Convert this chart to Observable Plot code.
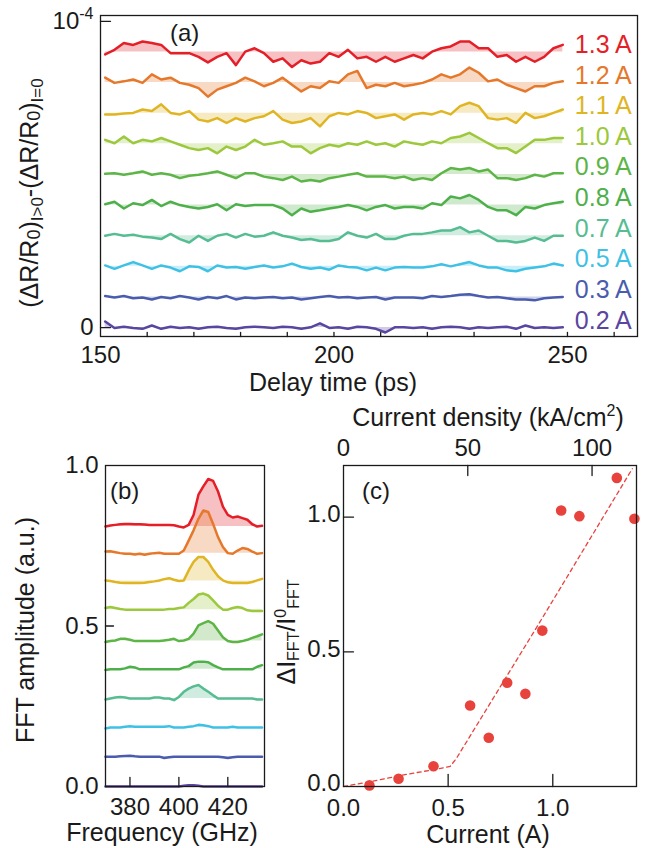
<!DOCTYPE html>
<html><head><meta charset="utf-8">
<script src="https://cdn.jsdelivr.net/npm/d3@7"></script>
<script src="https://cdn.jsdelivr.net/npm/@observablehq/plot@0.6"></script>
<style>
html,body{margin:0;padding:0;background:#fff;}
#fig{position:relative;width:651px;height:848px;font-family:"Liberation Sans",Arial,Helvetica,sans-serif;}
#fig > div{position:absolute;}
svg{overflow:visible;}
</style></head><body>
<div id="fig"><div id="pa" style="left:0;top:0"></div><div id="pb" style="left:0;top:400px"></div><div id="pc" style="left:275px;top:395px"></div></div>
<script>
const FONT = '"Liberation Sans", Arial, Helvetica, sans-serif';
const INK = "#1a1a1a";
const TICK_FS = 24, TITLE_FS = 25, LETTER_FS = 24;

// ---------- shared categories ----------
const currents = ["1.3 A","1.2 A","1.1 A","1.0 A","0.9 A","0.8 A","0.7 A","0.5 A","0.3 A","0.2 A"];
const colors = ["#e41f28","#e5782b","#e0b523","#9bc83c","#5cb546","#4eb04a","#56bc91","#3fc1e6","#4a5cae","#5a45a0"];

// ---------- panel (a): time traces, offsets in 1e-4, deviations in 1e-6 ----------
const delayTimes = d3.range(151, 251, 2);
const delayTicks = [150, 200, 250];
const delayMinorTicks = [160,170,180,190,200,210,220,230,240,250,260];
const offsetsA = [0.9,0.8,0.7,0.6,0.5,0.4,0.3,0.2,0.1,0];
const trace13 = [-0.8,0.7,2.9,2.3,3.4,2.9,2.3,-0.4,-0.4,-0.4,-1.6,-3.4,-1.6,-0.4,-4.3,0.1,1.2,-0.4,-3.2,-2.1,-4.9,-2.7,-3.8,-3.2,-0.4,-1.6,0.7,-2.1,-1.6,-3.2,-1.6,-3.2,-2.1,-1,-2.1,0.1,1.2,1.8,3.4,3.4,1.2,1.2,-1.6,-1,-3.2,-1.6,-3.2,-1.6,1.2,2.3];
const trace12 = [1.6,-0.1,0.4,1,-0.1,2.7,1,1.6,-0.1,-0.7,-1.8,-4.6,-2.3,-1.2,-0.1,1.6,0.4,-1.2,-0.1,1.6,-0.7,-2.9,-1.2,-1.8,0.4,-0.1,2.7,3.8,-1.8,-0.7,-1.2,-0.1,-1.2,-0.7,-0.1,1,2.7,1.6,2.7,4.9,3.2,0.4,1,-0.7,-1.8,-2.9,-1.2,-1.2,-0.1,0.4];
const trace11 = [-0.4,-0.4,-0.1,0.1,1.2,0.7,2.9,0.1,-0.4,0.7,-2.1,-2.7,-1.6,-3.2,-1.6,-2.7,-1.6,-1,0.7,-2.1,-3.2,-2.7,-1.6,-4.3,-1,0.1,-0.4,0.7,0.1,-1.6,-1,-0.4,-2.1,-0.4,0.1,-0.4,0.7,-0.4,2.3,3.4,2.3,-1.6,-2.1,-1.6,-3.2,0.1,-1.6,-1,0.1,1.2];
const trace10 = [1.3,0.2,2.4,0.2,1.3,0.8,1.9,0.8,-0.3,-1.4,-2,-1.4,-3.1,-0.9,-2,-0.9,1.3,-0.3,0.2,0.8,-0.9,-0.9,-3.1,-1.4,-0.3,-0.9,0.2,-0.3,0.8,-0.3,0.2,-0.9,0.8,0.2,-0.3,0.8,0.2,1.9,2.4,3.6,1.9,0.2,-1.4,-1.4,-3,-0.9,1.3,1.3,1.9,1.9];
const trace09 = [0.2,0.4,-0.1,0.4,1,-0.1,0.4,-0.1,-1.2,-0.4,-0.1,0.4,1,-0.1,-1.2,0.4,0.4,-0.7,-1.2,-1.8,-0.7,-2.3,-1.8,-2.3,-1.2,-0.7,-0.1,0.4,-0.7,-0.7,-0.7,-1.2,-0.7,-1.8,-1.2,-1.8,0.4,2.1,1.6,2.1,1,1.6,-1.2,-1.2,-1.8,-1.2,-0.1,-0.7,0.4,0.4];
const trace08 = [0.3,1.1,-1.1,0.6,0,1.7,-0.3,1.1,0,-0.6,-1.1,-0.6,0.3,-1.7,0.3,-0.3,0,0,0,-1.1,-3.3,-1.1,-2.2,-1.7,-1.1,-0.6,0,-0.6,-1.7,-0.6,0,-1.1,-0.6,-0.6,-1.1,0.6,0,2.8,2.2,3.3,1.7,-0.6,-1.7,-1.7,-3.3,-0.6,-1.1,0,0.6,1.1];
const trace07 = [0,0.6,0,0.3,-0.3,-0.6,-1.1,0.6,-1.1,-2.2,0,-1.7,0,0.6,-0.6,0.6,-0.3,0,1.1,0,-0.6,-1.4,-1.1,-1.7,-1.7,-1.1,1.1,0,-0.6,0.6,-1.1,-1.1,0,0.6,0.6,1.1,1.7,1.7,2.8,1.1,1.7,0,-1.7,-1.7,-2.2,-1.7,-0.6,-1.7,0,0];
const trace05 = [0.3,-0.8,0.3,1.4,0.3,-0.8,0.3,-0.4,-1.6,0,-0.2,-1.6,0.3,-0.4,-0.2,-0.8,-0.2,0.3,-0.4,0,0.9,-0.2,-0.8,-0.4,-1.1,0.3,-0.2,-0.4,-1.3,-0.4,-1.3,-0.4,-0.2,-0.4,-0.4,0,0.7,0,0.7,1.4,0.3,-0.4,-0.4,-1.3,-1.6,-0.8,-0.4,0,0.9,0.3];
const trace03 = [0.3,-0.2,0.3,-0.4,-0.2,-0.8,0,-0.4,0.3,-0.2,-0.8,0,-0.4,0.3,-0.8,-0.2,-0.4,-0.2,0,-0.4,-0.2,-0.8,-0.4,0,0.3,-0.2,0,-0.4,-0.2,0,-0.8,-0.2,-0.2,-0.2,-0.4,0.3,0,0.3,0.7,0.9,0.3,-0.2,0,-0.4,-0.8,-0.8,-1.1,-0.4,-0.2,0];
const trace02 = [2.0,-0.1,0.3,-0.1,-0.4,0.7,-0.4,0.3,-0.1,0.1,-0.4,0.1,0.3,-0.1,-0.4,0.1,0.3,0.1,-0.1,0.3,0.1,-0.4,0.1,1.4,-0.1,0.1,-0.4,0.3,0.1,-0.4,-1.6,0.1,0.1,-0.1,0.1,-0.4,0.1,0.3,0.1,-0.4,0.1,-0.1,0.1,0.3,-0.4,0.7,-0.1,0.1,-0.1,0.1];
const tracesA = [trace13,trace12,trace11,trace10,trace09,trace08,trace07,trace05,trace03,trace02];

// ---------- panel (b): FFT spectra ----------
const freqs = d3.range(370, 436, 2);
const freqTicks = [380, 400, 420];
const fftTicks = [0, 0.5, 1.0];
const offsetsB = [0.81,0.727,0.64,0.551,0.453,0.365,0.274,0.184,0.093,0];
const spec13 = [0,0.003,0.005,0.007,0.008,0.008,0.007,0.007,0.006,0.005,0.005,0.005,0.005,0.005,0.004,0,-0.003,0.005,0.036,0.099,0.125,0.148,0.142,0.109,0.062,0.036,0.028,0.031,0.026,0.021,0.007,0,0.002];
const spec12 = [0.005,0.006,0.003,0,-0.002,-0.002,-0.004,-0.002,-0.005,-0.002,0,0.001,-0.002,-0.002,-0.002,-0.002,0.008,0.039,0.071,0.107,0.133,0.128,0.091,0.05,0.019,0,-0.002,0.008,0.016,0.013,0.005,-0.002,0];
const spec11 = [0.002,0,-0.003,-0.005,-0.006,-0.006,-0.006,-0.006,-0.005,-0.003,-0.001,0.002,0.006,0.009,0.004,0,0.002,0.033,0.06,0.075,0.075,0.06,0.035,0.015,0.002,-0.004,-0.006,-0.006,-0.006,-0.006,-0.003,0.002,0.007];
const spec10 = [0.005,0.008,0.005,0.002,0,0,0,0,0,0,0,0,0,0.002,0.002,0.005,0.007,0.021,0.033,0.047,0.05,0.044,0.029,0.012,0,0,0.005,0.008,0.005,-0.002,-0.004,-0.004,-0.004];
const spec09 = [-0.003,0,0.002,0.007,0.007,0.004,0,0,0,0,0,0,0.002,0.004,0.007,0,0.002,0.007,0.023,0.049,0.056,0.062,0.054,0.033,0.012,0,-0.003,-0.003,0,0.004,0.01,0.015,0.021];
const spec08 = [-0.002,0,0,0,0.003,0.008,0.006,0,0,0,0,0,0,0,0,0,0.006,0.01,0.021,0.024,0.024,0.022,0.013,0.006,0,0,0,0,0,0,0,0.008,0.013];
const spec07 = [-0.003,0,0.003,0.005,0.003,0,0,0,0,0,0.003,0.003,0,0,-0.005,0.005,0.021,0.031,0.038,0.042,0.031,0.021,0.01,0,0,0,0,0,0,0,0,-0.003,-0.003];
const spec05 = [-0.003,0,0,0,0.002,0.004,0.002,0.002,0.002,0.002,0.002,0.002,0.002,0.004,0,0,0,0.002,0.004,0.008,0.007,0.004,0,0,0,0,0.002,0,0,0,0,0,0];
const spec03 = [0,0,0,0.001,0.002,0.003,0.001,0,0,0,0,0,-0.004,-0.002,0,0,0,0,0,0,0,0,0,0,-0.002,-0.004,-0.002,0,0,0,0,0,0];
const spec02 = [0,0,0,0,0,0,0,0,0,0,0,0,0,0,0,0,0.002,0.004,0.004,0.002,0,0,0,0,0,0,0,0,0,0,0,0,0];
const spectraB = [spec13,spec12,spec11,spec10,spec09,spec08,spec07,spec05,spec03,spec02];

// ---------- panel (c): normalized FFT intensity vs current ----------
const currentPts = [0.124,0.263,0.43,0.605,0.694,0.782,0.869,0.95,1.04,1.127,1.306,1.39];
const ratioPts = [0.004,0.029,0.075,0.301,0.181,0.385,0.344,0.579,1.025,1.004,1.146,0.994];
const fitCurrent = [0,0.14,0.3,0.45,0.51,0.54,0.93,1.38];
const fitRatio = [0,0.02,0.045,0.065,0.075,0.105,0.6,1.18];
const currentTicks = [0, 0.5, 1.0];
const ratioTicks = [0, 0.5, 1.0];
const densityTicks = [0, 50, 100];
const densityPerAmp = 84.2; // kA/cm^2 per A
const pointColor = "#e8423d";

// ---------- helpers ----------
const tickShape = {draw(ctx, l) { ctx.moveTo(0, 0); ctx.lineTo(0, -l); }};
function inTicks(vals, side, len) {
  const ch = (side === "bottom" || side === "top") ? "x" : "y";
  return Plot.vector(vals, {[ch]: d => d, frameAnchor: side, length: len,
    rotate: {bottom: 0, top: 180, left: 90, right: -90}[side], anchor: "start",
    shape: tickShape, stroke: INK, strokeWidth: 1.3});
}
const baseStyle = {fontFamily: FONT, fontSize: TICK_FS + "px", background: "transparent", color: INK, overflow: "visible"};
function addText(svg, x, y, size, parts, opts = {}) {
  const t = svg.append("text").attr("fill", INK).attr("font-size", size).attr("font-family", FONT)
    .attr("text-anchor", opts.anchor || "middle");
  if (opts.rotate) t.attr("transform", `translate(${x},${y}) rotate(-90)`); else t.attr("x", x).attr("y", y);
  for (const p of parts) {
    const s = t.append("tspan").text(p.text);
    if (p.size) s.attr("font-size", p.size);
    if (p.dy) s.attr("dy", p.dy);
  }
  return t;
}

// ---------- panel (a) ----------
const rowsA = tracesA.flatMap((tr, k) => tr.map((d, i) => ({t: delayTimes[i], v: offsetsA[k] + d / 100, base: offsetsA[k], label: currents[k]})));
const labelRowsA = currents.map((c, k) => ({label: c, base: offsetsA[k]}));
const lastTime = delayTimes[delayTimes.length - 1];

const plotA = Plot.plot({
  width: 651, height: 395, marginLeft: 100, marginRight: 14, marginTop: 15, marginBottom: 59,
  x: {domain: [150, 265]}, y: {domain: [-0.029, 1.019]},
  color: {domain: currents, range: colors},
  style: baseStyle,
  marks: [
    Plot.areaY(rowsA, {x: "t", y1: "base", y2: "v", z: "label", fill: "label", fillOpacity: 0.28}),
    Plot.lineY(rowsA, {x: "t", y: "v", z: "label", stroke: "label", strokeWidth: 2.5}),
    Plot.text(labelRowsA, {x: () => lastTime, y: "base", text: "label", fill: "label", textAnchor: "start", fontSize: 25, dx: 12, dy: -7}),
    Plot.frame({stroke: INK, strokeWidth: 1.3}),
    inTicks(delayMinorTicks, "bottom", 4),
    inTicks([0, 1], "left", 10),
    Plot.axisX(delayTicks, {tickSize: 0, tickPadding: 9, fontSize: TICK_FS, label: null}),
    Plot.axisY([0, 1], {tickSize: 0, tickPadding: 7, fontSize: TICK_FS, label: null, tickFormat: d => d === 1 ? "10" : "0"})
  ]
});
document.getElementById("pa").appendChild(plotA);
const svgA = d3.select(plotA);
svgA.selectAll("text").filter(function() { return this.textContent === "10"; })
  .append("tspan").attr("font-size", 16).attr("dy", "-0.6em").text("-4");
addText(svgA, 170, 41, LETTER_FS, [{text: "(a)"}], {anchor: "start"});
addText(svgA, 333, 391, TITLE_FS, [{text: "Delay time (ps)"}]);
addText(svgA, 38, 193, TITLE_FS, [
  {text: "(ΔR/R"}, {text: "0", size: 18, dy: 2}, {text: ")", dy: -2},
  {text: "I>0", size: 17, dy: 5}, {text: "-(ΔR/R", dy: -5}, {text: "0", size: 18, dy: 2}, {text: ")", dy: -2},
  {text: "I=0", size: 17, dy: 5}
], {rotate: true});

// ---------- panel (b) ----------
const rowsB = spectraB.flatMap((sp, k) => sp.map((d, i) => ({f: freqs[i], v: offsetsB[k] + d, base: offsetsB[k], label: currents[k]})));
const plotB = Plot.plot({
  width: 275, height: 448, marginLeft: 105, marginRight: 11, marginTop: 65, marginBottom: 62,
  x: {domain: [370, 435]}, y: {domain: [0, 1]},
  color: {domain: currents, range: colors},
  style: baseStyle,
  marks: [
    Plot.areaY(rowsB, {x: "f", y1: "base", y2: "v", z: "label", fill: "label", fillOpacity: 0.28}),
    Plot.lineY(rowsB, {x: "f", y: "v", z: "label", stroke: "label", strokeWidth: 2.5}),
    Plot.frame({stroke: INK, strokeWidth: 1.3}),
    inTicks(freqTicks, "bottom", 9),
    inTicks([0.5], "left", 8),
    Plot.axisX(freqTicks, {tickSize: 0, tickPadding: 11, fontSize: TICK_FS, label: null}),
    Plot.axisY(fftTicks, {tickSize: 0, tickPadding: 7, fontSize: TICK_FS, label: null, tickFormat: d3.format(".1f")})
  ]
});
document.getElementById("pb").appendChild(plotB);
const svgB = d3.select(plotB);
addText(svgB, 110, 99, LETTER_FS, [{text: "(b)"}], {anchor: "start"});
addText(svgB, 162, 441, TITLE_FS, [{text: "Frequency (GHz)"}]);
addText(svgB, 34, 230, TITLE_FS, [{text: "FFT amplitude (a.u.)"}], {rotate: true});

// ---------- panel (c) ----------
const pointRows = currentPts.map((I, i) => ({I, r: ratioPts[i]}));
const fitRows = fitCurrent.map((I, i) => ({I, r: fitRatio[i]}));
const plotC = Plot.plot({
  width: 376, height: 453, marginLeft: 68, marginRight: 15, marginTop: 70, marginBottom: 62,
  x: {domain: [0, 1.4]}, y: {domain: [0, 1.192]},
  style: baseStyle,
  marks: [
    Plot.line(fitRows, {x: "I", y: "r", stroke: pointColor, strokeWidth: 1.3, strokeDasharray: "4,3.5"}),
    Plot.dot(pointRows, {x: "I", y: "r", r: 5.3, fill: pointColor}),
    Plot.frame({stroke: INK, strokeWidth: 1.3}),
    inTicks([0.5, 1.0], "bottom", 12),
    inTicks(densityTicks.slice(1).map(j => j / densityPerAmp), "top", 10),
    inTicks([0.5, 1.0], "left", 10),
    Plot.axisX(currentTicks, {anchor: "bottom", tickSize: 0, tickPadding: 12, fontSize: TICK_FS, label: null, tickFormat: d3.format(".1f")}),
    Plot.axisX(densityTicks.map(j => j / densityPerAmp), {anchor: "top", tickSize: 0, tickPadding: 10, fontSize: TICK_FS, label: null, tickFormat: d => String(Math.round(d * densityPerAmp))}),
    Plot.axisY(ratioTicks, {tickSize: 0, tickPadding: 3, fontSize: TICK_FS, label: null, tickFormat: d3.format(".1f"), dy: -3})
  ]
});
document.getElementById("pc").appendChild(plotC);
const svgC = d3.select(plotC);
addText(svgC, 87, 104, LETTER_FS, [{text: "(c)"}], {anchor: "start"});
addText(svgC, 213, 448, TITLE_FS, [{text: "Current (A)"}]);
addText(svgC, 213, 31, TITLE_FS, [{text: "Current density (kA/cm"}, {text: "2", size: 16, dy: -10}, {text: ")", dy: 10}]);
addText(svgC, 20, 237, TITLE_FS, [
  {text: "ΔI"}, {text: "FFT", size: 16, dy: 4}, {text: "/I", dy: -4},
  {text: "0", size: 16, dy: -9}, {text: "FFT", size: 16, dy: 13}
], {rotate: true});
</script></body></html>
